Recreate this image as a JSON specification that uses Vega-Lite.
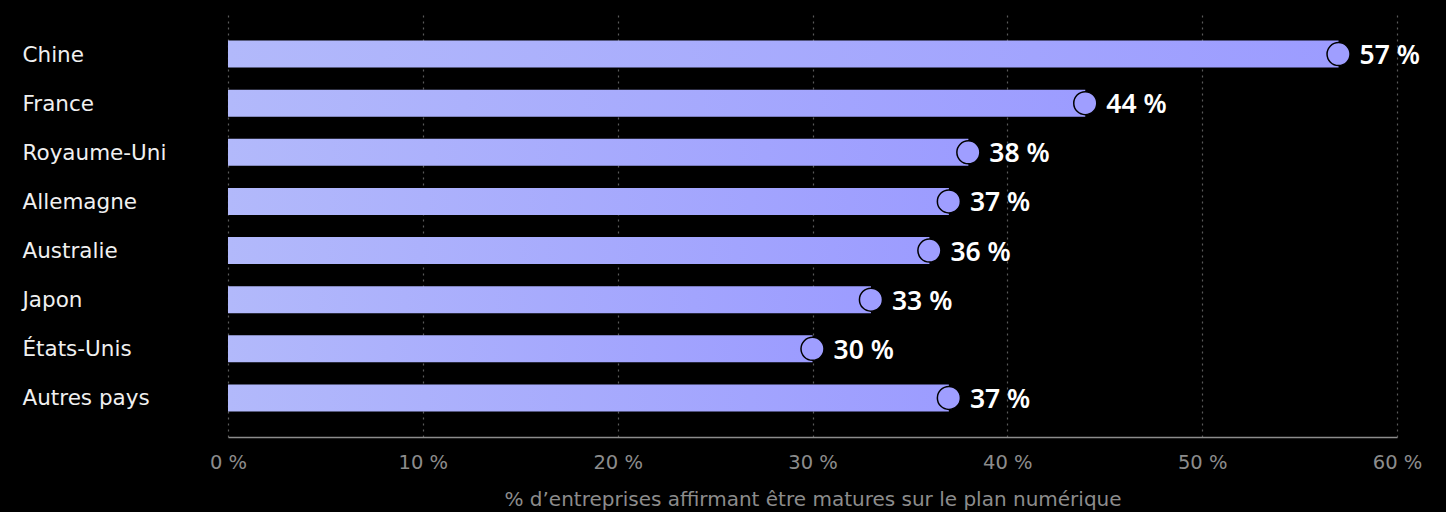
{
  "$schema": "https://vega.github.io/schema/vega-lite/v6.json",
  "autosize": "none",
  "width": 1169,
  "height": 422,
  "padding": {"left": 228, "top": 15, "right": 49, "bottom": 75},
  "background": "#000000",
  "config": {"view": {"stroke": null}, "font": "DejaVu Sans"},
  "data": {"values": [
    {"pays": "Chine", "v": 57, "label": "57 %"},
    {"pays": "France", "v": 44, "label": "44 %"},
    {"pays": "Royaume-Uni", "v": 38, "label": "38 %"},
    {"pays": "Allemagne", "v": 37, "label": "37 %"},
    {"pays": "Australie", "v": 36, "label": "36 %"},
    {"pays": "Japon", "v": 33, "label": "33 %"},
    {"pays": "États-Unis", "v": 30, "label": "30 %"},
    {"pays": "Autres pays", "v": 37, "label": "37 %"}
  ]},
  "encoding": {
    "y": {"field": "pays", "type": "nominal", "sort": null,
      "scale": {"paddingInner": 0.45, "paddingOuter": 0.52},
      "axis": {"title": null, "domain": false, "ticks": false, "labelAlign": "left", "labelPadding": 206, "labelOffset": 1.5,
        "labelColor": "#f0f0f0", "labelFontSize": 21.5, "labelLimit": 300, "labelFont": "DejaVu Sans", "labelFontWeight": "normal"}},
    "x": {"field": "v", "type": "quantitative",
      "scale": {"domain": [0, 60], "nice": false},
      "axis": {"values": [0, 10, 20, 30, 40, 50, 60], "labelExpr": "datum.value + ' %'", "labelFlush": false,
        "title": "% d’entreprises affirmant être matures sur le plan numérique",
        "titleColor": "#8c8c8c", "titleFontSize": 20, "titleFontWeight": "normal", "titlePadding": 18, "titleFont": "DejaVu Sans",
        "labelColor": "#8c8c8c", "labelFontSize": 19.5, "labelFontWeight": "normal", "labelPadding": 16, "labelFont": "DejaVu Sans",
        "domainColor": "#8c8c8c", "domainWidth": 1.5, "ticks": false,
        "grid": true, "gridColor": "#5a5a5a", "gridDash": [2, 4], "gridWidth": 1.2}}
  },
  "layer": [
    {"mark": {"type": "bar", "color": {"gradient": "linear", "x1": 0, "x2": 1, "y1": 0, "y2": 0,
      "stops": [{"offset": 0, "color": "#b2b9fb"}, {"offset": 1, "color": "#9c9cff"}]}}},
    {"mark": {"type": "point", "filled": true, "fill": "#9f9eff", "stroke": "#000000", "strokeWidth": 1.5, "size": 530, "opacity": 1}},
    {"mark": {"type": "text", "align": "left", "baseline": "middle", "dx": 21, "dy": 2, "fontSize": 26.5, "fontWeight": 600, "font": "Noto Sans", "color": "#ffffff"},
      "encoding": {"text": {"field": "label", "type": "nominal"}}}
  ]
}
